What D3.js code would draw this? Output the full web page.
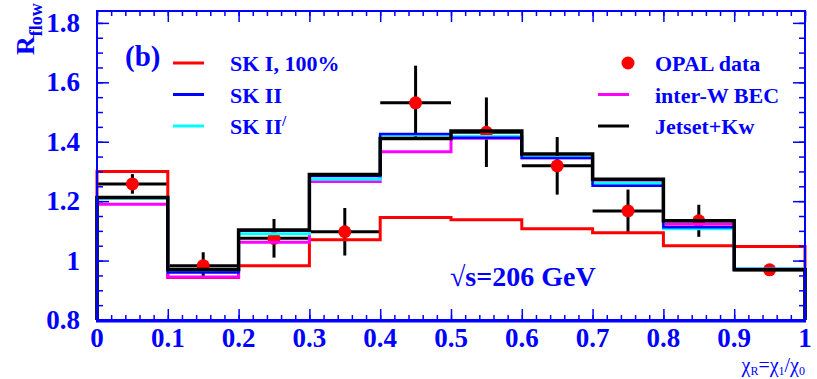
<!DOCTYPE html>
<html>
<head>
<meta charset="utf-8">
<script src="https://cdn.jsdelivr.net/npm/d3@7"></script>
<style>
  body { margin: 0; background: #fff; }
  text { font-family: "Liberation Serif", "Times New Roman", serif; fill: #0000ff; }
</style>
</head>
<body>
<script>
// bin lower edges (width 0.1)
var binLow = [0, 0.1, 0.2, 0.3, 0.4, 0.5, 0.6, 0.7, 0.8, 0.9];

// model histograms
var skI    = [1.300, 0.943, 0.983, 1.070, 1.145, 1.137, 1.107, 1.094, 1.050, 1.047];
var skII   = [1.213, 0.960, 1.100, 1.285, 1.426, 1.413, 1.345, 1.252, 1.112, 0.972];
var skIIp  = [1.210, 0.963, 1.090, 1.274, 1.423, 1.418, 1.348, 1.260, 1.107, 0.972];
var interW = [1.190, 0.945, 1.062, 1.266, 1.366, 1.412, 1.346, 1.262, 1.122, 0.970];
var jetset = [1.212, 0.970, 1.103, 1.290, 1.411, 1.436, 1.359, 1.274, 1.134, 0.969];

// OPAL data
var opal    = [1.258, 0.983, 1.075, 1.097, 1.531, 1.432, 1.319, 1.167, 1.134, 0.969];
var opalErr = [0.033, 0.045, 0.065, 0.080, 0.125, 0.117, 0.097, 0.072, 0.054, 0.012];

var xTicks = [0, 0.1, 0.2, 0.3, 0.4, 0.5, 0.6, 0.7, 0.8, 0.9, 1];
var yTicks = [0.8, 1, 1.2, 1.4, 1.6, 1.8];

var W = 817, H = 379;
var blue = "#0000ff";

var svg = d3.select("body").append("svg")
  .attr("width", W)
  .attr("height", H);

var x = d3.scaleLinear().domain([0, 1]).range([97, 805]);
var y = d3.scaleLinear().domain([0.8, 1.84]).range([320, 11]);

// histogram outline, starting and ending on the bottom axis
function histPath(vals) {
  var pts = [[x(0), y(0.8)]];
  vals.forEach(function(v, i) {
    pts.push([x(binLow[i]), y(v)]);
    pts.push([x(binLow[i] + 0.1), y(v)]);
  });
  pts.push([x(1), y(0.8)]);
  return d3.line()(pts);
}

// data: error bars first, then markers
var data = opal.map(function(v, i) {
  return { x: binLow[i] + 0.05, v: v, e: opalErr[i] };
});

var eb = svg.append("g").attr("stroke", "#000").attr("stroke-width", 3);
eb.selectAll(".ev").data(data).enter().append("line")
  .attr("x1", function(d) { return x(d.x); })
  .attr("x2", function(d) { return x(d.x); })
  .attr("y1", function(d) { return y(d.v - d.e); })
  .attr("y2", function(d) { return y(d.v + d.e); });
eb.selectAll(".eh").data(data).enter().append("line")
  .attr("x1", function(d) { return x(d.x - 0.05); })
  .attr("x2", function(d) { return x(d.x + 0.05); })
  .attr("y1", function(d) { return y(d.v); })
  .attr("y2", function(d) { return y(d.v); });

svg.append("g").selectAll("circle").data(data).enter().append("circle")
  .attr("cx", function(d) { return x(d.x); })
  .attr("cy", function(d) { return y(d.v); })
  .attr("r", 6.5)
  .attr("fill", "#ff0000");

// histograms
var hists = [
  { vals: skI, color: "#ff0000", w: 3 },
  { vals: interW, color: "#ff00ff", w: 3 },
  { vals: skIIp, color: "#00ffff", w: 3 },
  { vals: skII, color: "#0000ff", w: 2.5 },
  { vals: jetset, color: "#000000", w: 3.5 }
];
svg.append("g").selectAll("path").data(hists).enter().append("path")
  .attr("d", function(d) { return histPath(d.vals); })
  .attr("fill", "none")
  .attr("stroke", function(d) { return d.color; })
  .attr("stroke-width", function(d) { return d.w; });

// axes with inward ticks
var xMinor = d3.range(0, 1.0001, 0.02);
var yMinor = d3.range(0.8, 1.8401, 0.05);

function styleAxis(g) {
  g.select(".domain").remove();
  g.selectAll(".tick line").attr("stroke", blue).attr("stroke-width", 1.5);
  g.selectAll(".tick text").remove();
}

svg.append("g").attr("transform", "translate(0," + y(0.8) + ")")
  .call(d3.axisBottom(x).tickValues(xMinor).tickSize(-5)).call(styleAxis);
svg.append("g").attr("transform", "translate(0," + y(0.8) + ")")
  .call(d3.axisBottom(x).tickValues(xTicks).tickSize(-11)).call(styleAxis);
svg.append("g").attr("transform", "translate(0," + y.range()[1] + ")")
  .call(d3.axisTop(x).tickValues(xMinor).tickSize(-5)).call(styleAxis);
svg.append("g").attr("transform", "translate(0," + y.range()[1] + ")")
  .call(d3.axisTop(x).tickValues(xTicks).tickSize(-11)).call(styleAxis);
svg.append("g").attr("transform", "translate(" + x(0) + ",0)")
  .call(d3.axisLeft(y).tickValues(yMinor).tickSize(-6)).call(styleAxis);
svg.append("g").attr("transform", "translate(" + x(0) + ",0)")
  .call(d3.axisLeft(y).tickValues(yTicks).tickSize(-12)).call(styleAxis);
svg.append("g").attr("transform", "translate(" + x(1) + ",0)")
  .call(d3.axisRight(y).tickValues(yMinor).tickSize(-6)).call(styleAxis);
svg.append("g").attr("transform", "translate(" + x(1) + ",0)")
  .call(d3.axisRight(y).tickValues(yTicks).tickSize(-12)).call(styleAxis);

// frame
svg.append("rect")
  .attr("x", x(0)).attr("y", y.range()[1])
  .attr("width", x(1) - x(0)).attr("height", y(0.8) - y.range()[1])
  .attr("fill", "none").attr("stroke", blue).attr("stroke-width", 2);
svg.append("line")
  .attr("x1", x(0) - 1).attr("x2", x(1) + 1)
  .attr("y1", y(0.8) + 1).attr("y2", y(0.8) + 1)
  .attr("stroke", blue).attr("stroke-width", 3);

// tick labels
svg.append("g").selectAll("text").data(xTicks).enter().append("text")
  .attr("x", function(d) { return x(d); })
  .attr("y", 347)
  .attr("text-anchor", "middle")
  .attr("font-size", 27).attr("font-weight", "bold")
  .text(function(d) { return d3.format("")(d); });
svg.append("g").selectAll("text").data(yTicks).enter().append("text")
  .attr("x", 80)
  .attr("y", function(d) { return y(d) + 9; })
  .attr("text-anchor", "end")
  .attr("font-size", 27).attr("font-weight", "bold")
  .text(function(d) { return d3.format("")(d); });

// axis titles
var yl = svg.append("text")
  .attr("transform", "translate(34,55) rotate(-90)")
  .attr("font-size", 26).attr("font-weight", "bold");
yl.append("tspan").text("R");
yl.append("tspan").attr("dy", 8).attr("font-size", 18).text("flow");

var xl = svg.append("text")
  .attr("x", 805).attr("y", 372)
  .attr("text-anchor", "end")
  .attr("font-size", 20);
xl.append("tspan").text("χ");
xl.append("tspan").attr("dy", 3).attr("font-size", 12).text("R");
xl.append("tspan").attr("dy", -3).text("=χ");
xl.append("tspan").attr("dy", 3).attr("font-size", 12).text("1");
xl.append("tspan").attr("dy", -3).text("/χ");
xl.append("tspan").attr("dy", 3).attr("font-size", 12).text("0");

// annotations
svg.append("text").attr("x", 125).attr("y", 66)
  .attr("font-size", 29).attr("font-weight", "bold").text("(b)");
svg.append("text").attr("x", 450).attr("y", 286)
  .attr("font-size", 28).attr("font-weight", "bold").text("√s=206 GeV");

// legends
var legLeft = [
  { label: "SK I, 100%", color: "#ff0000" },
  { label: "SK II", color: "#0000ff" },
  { label: "SK II", color: "#00ffff", prime: true }
];
var legRight = [
  { label: "OPAL data", dot: true },
  { label: "inter-W BEC", color: "#ff00ff" },
  { label: "Jetset+Kw", color: "#000000" }
];

function drawLegend(items, lx, tx) {
  items.forEach(function(d, i) {
    var ly = 63 + i * 31.5;
    if (d.dot) {
      svg.append("circle").attr("cx", lx + 30).attr("cy", ly).attr("r", 6.5).attr("fill", "#ff0000");
    } else {
      svg.append("line").attr("x1", lx).attr("x2", lx + 31)
        .attr("y1", ly).attr("y2", ly)
        .attr("stroke", d.color).attr("stroke-width", 3);
    }
    var t = svg.append("text").attr("x", tx).attr("y", ly + 8)
      .attr("font-size", 22).attr("font-weight", "bold").text(d.label);
    if (d.prime) {
      t.append("tspan").attr("dy", -8).attr("font-size", 15).text("/");
    }
  });
}
drawLegend(legLeft, 173, 230);
drawLegend(legRight, 598, 655);
</script>
</body>
</html>
